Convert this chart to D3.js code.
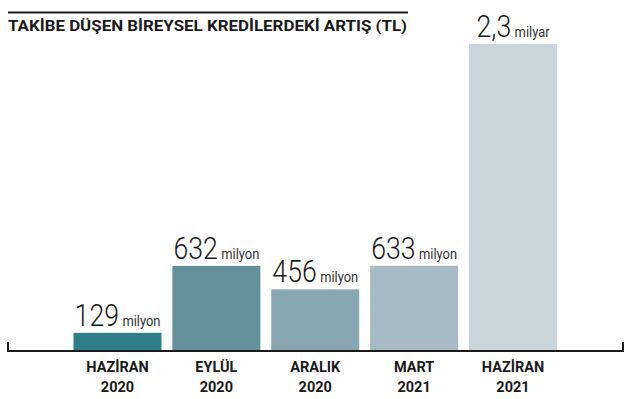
<!DOCTYPE html>
<html><head><meta charset="utf-8">
<script src="https://cdn.jsdelivr.net/npm/d3@7"></script>
<style>body{margin:0;background:#fff}</style>
</head><body>
<svg id="c" width="635" height="399"></svg>
<script>
const title = "TAKİBE DÜŞEN BİREYSEL KREDİLERDEKİ ARTIŞ (TL)";
const months = ["HAZİRAN", "EYLÜL", "ARALIK", "MART", "HAZİRAN"];
const years = ["2020", "2020", "2020", "2021", "2021"];
const values = [129, 632, 456, 633, 2300]; // milyon TL
const valueText = ["129", "632", "456", "633", "2,3"];
const unitText = ["milyon", "milyon", "milyon", "milyon", "milyar"];
const colors = ["#2f7f8b", "#64909b", "#88a7b0", "#a8bbc4", "#c9d5da"];

const svg = d3.select("#c");
const ids = months.map((m, i) => i);
const x = d3.scaleBand().domain(ids).range([73.5, 557]).paddingInner(0.11).paddingOuter(0);
const y = d3.scaleLinear().domain([0, 2300]).range([350, 44]);

// title
svg.append("line").attr("x1", 8).attr("x2", 408).attr("y1", 12.5).attr("y2", 12.5)
  .attr("stroke", "#1a1a1a").attr("stroke-width", 2);
svg.append("text").attr("x", 8).attr("y", 31).text(title)
  .attr("font-family", "Roboto, 'Liberation Sans', sans-serif").attr("font-weight", "bold")
  .attr("font-size", 15).attr("fill", "#1a1a1a")
  .attr("textLength", 399).attr("lengthAdjust", "spacingAndGlyphs");

// bars
svg.selectAll("rect.bar").data(ids).join("rect").attr("class", "bar")
  .attr("x", i => x(i)).attr("width", x.bandwidth())
  .attr("y", i => y(values[i])).attr("height", i => y(0) - y(values[i]))
  .attr("fill", i => colors[i]);

// value labels
const lab = svg.selectAll("g.lab").data(ids).join("g").attr("class", "lab")
  .attr("transform", i => `translate(${x(i) + x.bandwidth() / 2},${y(values[i]) - 7}) scale(0.86,1)`);
const t = lab.append("text").attr("text-anchor", "middle")
  .attr("font-family", "Roboto, 'Open Sans', sans-serif").attr("fill", "#1a1a1a");
t.append("tspan").attr("font-size", 31).attr("font-weight", 300).text(i => valueText[i]);
t.append("tspan").attr("font-size", 15).attr("font-weight", 400).attr("dx", 4).attr("fill", "#333").text(i => unitText[i]);

// axis line
svg.append("path")
  .attr("d", `M8,342V351H623V342`)
  .attr("fill", "none").attr("stroke", "#1a1a1a").attr("stroke-width", 2);

// category labels
const cl = svg.selectAll("text.cat").data(ids).join("text").attr("class", "cat")
  .attr("text-anchor", "middle")
  .attr("font-family", "Roboto, 'Liberation Sans', sans-serif").attr("font-weight", "bold")
  .attr("font-size", 14.5).attr("fill", "#1a1a1a");
cl.append("tspan").attr("x", i => x(i) + x.bandwidth() / 2).attr("y", 372).text(i => months[i]);
cl.append("tspan").attr("x", i => x(i) + x.bandwidth() / 2).attr("y", 392).text(i => years[i]);
</script>
</body></html>
